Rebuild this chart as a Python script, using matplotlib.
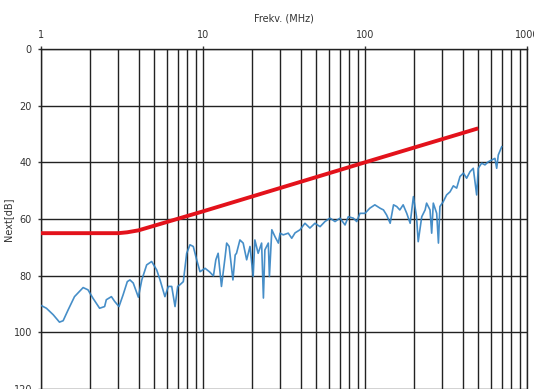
import matplotlib.pyplot as plt
from matplotlib.ticker import NullFormatter, LogLocator

# Limit line (red)
limit_freq = [1, 3.0, 3.4, 4.0, 10, 100, 500]
limit_db = [65, 65, 64.7, 64.0, 57.3, 40.0, 28.0]

meas_freq = [1.00, 1.08, 1.19, 1.30, 1.37, 1.47, 1.61, 1.82, 1.95, 2.09,
             2.30, 2.47, 2.53, 2.72, 2.85, 3.03, 3.21, 3.41, 3.54, 3.71,
             3.99, 4.19, 4.49, 4.82, 5.18, 5.43, 5.82, 6.11, 6.41, 6.72,
             6.98, 7.21, 7.56, 7.93, 8.31, 8.71, 9.14, 9.58, 10.3, 11.0,
             11.6, 12.0, 12.4, 13.0, 13.7, 14.0, 14.5, 15.3, 15.8, 16.1,
             16.9, 17.7, 18.6, 19.5, 20.4, 20.9, 21.9, 23.0, 23.6, 24.1,
             25.3, 25.7, 26.6, 27.8, 29.2, 29.9, 31.3, 33.6, 35.3, 37.0,
             39.7, 42.6, 45.7, 49.1, 52.8, 56.6, 60.8, 65.3, 70.1, 75.3,
             78.9, 84.7, 88.9, 93.1, 100, 107, 115, 124, 130, 136,
             143, 150, 157, 164, 172, 181, 190, 199, 208, 213,
             224, 235, 240, 252, 258, 264, 277, 284, 290, 304,
             319, 335, 351, 368, 386, 405, 424, 445, 466, 489,
             500, 525, 550, 577, 605, 634, 650, 665, 698]
meas_db = [90.5, 91.5, 93.8, 96.4, 95.9, 92.1, 87.4, 84.2, 85.0, 87.9,
           91.5, 90.9, 88.5, 87.4, 89.1, 90.9, 86.8, 82.1, 81.5, 82.6,
           87.6, 81.5, 76.2, 75.0, 78.0, 81.5, 87.4, 83.8, 83.8, 90.9,
           83.8, 83.2, 82.1, 72.1, 69.1, 69.7, 74.4, 78.6, 77.4, 78.7,
           80.1, 74.4, 72.1, 83.8, 73.3, 68.5, 69.7, 81.5, 72.7, 72.1,
           67.4, 68.5, 74.4, 69.7, 80.3, 67.4, 72.1, 68.5, 87.9, 70.9,
           68.5, 80.3, 63.8, 66.2, 68.5, 65.0, 65.6, 65.0, 66.8, 64.9,
           63.8, 61.5, 63.2, 61.5, 62.7, 60.9, 59.7, 60.9, 59.7, 62.1,
           59.2, 59.7, 60.9, 58.0, 58.0, 56.2, 55.0, 56.2, 56.8, 58.6,
           61.5, 55.0, 55.6, 56.8, 55.0, 58.0, 61.5, 52.1, 59.2, 68.0,
           59.2, 56.8, 54.4, 56.8, 65.0, 54.4, 58.0, 68.5, 55.6, 53.9,
           51.5, 50.4, 48.3, 49.1, 45.0, 43.8, 45.6, 43.3, 42.1, 51.5,
           42.1, 40.3, 40.9, 39.8, 39.2, 38.6, 42.1, 37.4, 34.5]

x_ticks = [1, 10, 100, 1000]
x_labels = ['1', '10', '100', '1000']
y_ticks = [0, 20, 40, 60, 80, 100, 120]

plt.rcParams['font.family'] = ['DejaVu Sans']
text_col = '#333333'

fig = plt.figure(figsize=(5.34, 3.89), dpi=100)
ax = fig.add_axes([41 / 534, 0.0, 486 / 534, 1 - 49 / 389])

ax.plot(meas_freq, meas_db, color='#3282c2', lw=1.2, alpha=0.9, zorder=3)
ax.plot(limit_freq, limit_db, color='#e3121b', lw=2.8, zorder=4,
        solid_capstyle='butt')

ax.set_xscale('log')
ax.set_xlim(1, 1000)
ax.set_ylim(120, 0)

ax.xaxis.set_ticks_position('top')
ax.xaxis.set_label_position('top')
ax.set_xticks(x_ticks)
ax.set_xticklabels(x_labels)
ax.xaxis.set_minor_locator(LogLocator(base=10, subs=range(2, 10)))
ax.xaxis.set_minor_formatter(NullFormatter())
ax.set_yticks(y_ticks)

ax.tick_params(axis='both', which='major', labelsize=7, colors=text_col,
               length=2.5, width=1, pad=4)
ax.tick_params(axis='x', which='minor', length=0)

ax.grid(True, which='both', axis='x', color='#222222', lw=1.0)
ax.grid(True, which='major', axis='y', color='#222222', lw=1.0)

for s in ax.spines.values():
    s.set_color('#222222')
    s.set_linewidth(1.0)
ax.spines['bottom'].set_visible(False)

ax.set_xlabel('Frekv. (MHz)', fontsize=7, color=text_col, labelpad=6)
ax.set_ylabel('Next[dB]', fontsize=7, color=text_col)
ax.yaxis.set_label_coords(-0.058, 0.5)

fig.savefig('out.png', dpi=100)
